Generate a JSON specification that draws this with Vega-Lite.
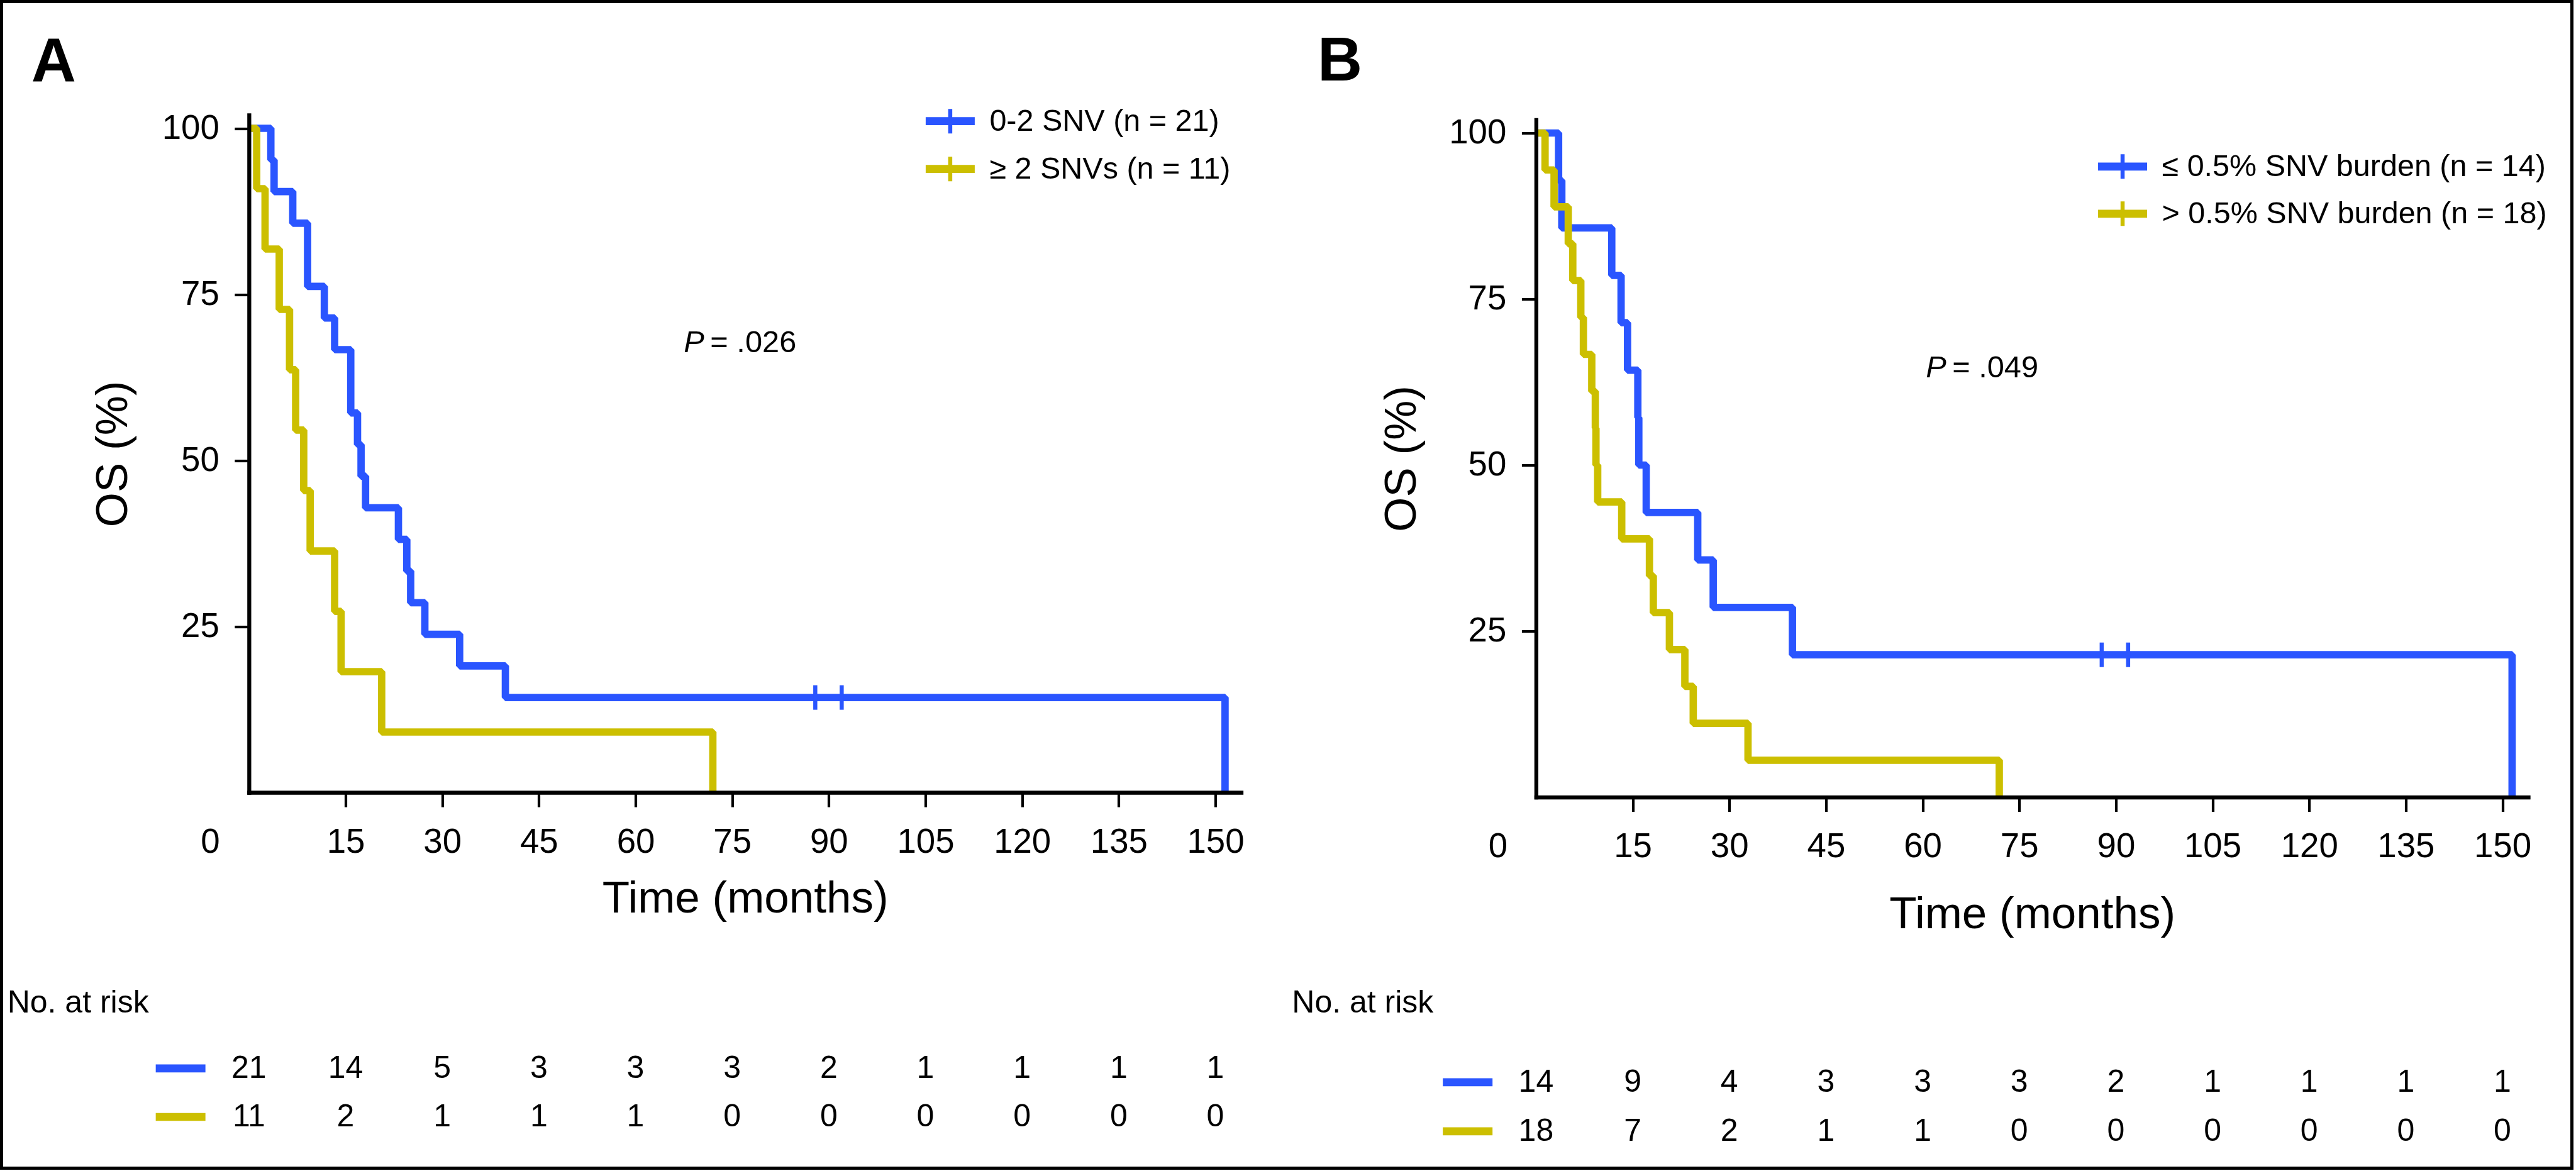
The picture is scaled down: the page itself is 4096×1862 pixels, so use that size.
{
  "$schema": "https://vega.github.io/schema/vega-lite/v6.json",
  "width": 4087,
  "height": 1855,
  "padding": 2.5,
  "autosize": {"type": "none"},
  "background": "white",
  "view": {"stroke": "black", "strokeWidth": 5, "fill": "white"},
  "config": {"font": "Liberation Sans", "axis": {"grid": false}},
  "datasets": {
    "survA": [
      {"group": "0-2 SNV (n = 21)", "t": 0, "S": 100},
      {"group": "0-2 SNV (n = 21)", "t": 3.4, "S": 95.24},
      {"group": "0-2 SNV (n = 21)", "t": 3.9, "S": 90.48},
      {"group": "0-2 SNV (n = 21)", "t": 6.8, "S": 85.71},
      {"group": "0-2 SNV (n = 21)", "t": 9.1, "S": 76.19},
      {"group": "0-2 SNV (n = 21)", "t": 11.7, "S": 71.43},
      {"group": "0-2 SNV (n = 21)", "t": 13.3, "S": 66.67},
      {"group": "0-2 SNV (n = 21)", "t": 15.8, "S": 57.14},
      {"group": "0-2 SNV (n = 21)", "t": 16.85, "S": 52.38},
      {"group": "0-2 SNV (n = 21)", "t": 17.4, "S": 47.62},
      {"group": "0-2 SNV (n = 21)", "t": 18.1, "S": 42.86},
      {"group": "0-2 SNV (n = 21)", "t": 23.2, "S": 38.1},
      {"group": "0-2 SNV (n = 21)", "t": 24.5, "S": 33.33},
      {"group": "0-2 SNV (n = 21)", "t": 25.1, "S": 28.57},
      {"group": "0-2 SNV (n = 21)", "t": 27.3, "S": 23.81},
      {"group": "0-2 SNV (n = 21)", "t": 32.7, "S": 19.05},
      {"group": "0-2 SNV (n = 21)", "t": 39.8, "S": 14.29},
      {"group": "0-2 SNV (n = 21)", "t": 151.5, "S": 0},
      {"group": "≥ 2 SNVs (n = 11)", "t": 0, "S": 100},
      {"group": "≥ 2 SNVs (n = 11)", "t": 1.2, "S": 90.91},
      {"group": "≥ 2 SNVs (n = 11)", "t": 2.5, "S": 81.82},
      {"group": "≥ 2 SNVs (n = 11)", "t": 4.7, "S": 72.73},
      {"group": "≥ 2 SNVs (n = 11)", "t": 6.3, "S": 63.64},
      {"group": "≥ 2 SNVs (n = 11)", "t": 7.25, "S": 54.55},
      {"group": "≥ 2 SNVs (n = 11)", "t": 8.5, "S": 45.45},
      {"group": "≥ 2 SNVs (n = 11)", "t": 9.5, "S": 36.36},
      {"group": "≥ 2 SNVs (n = 11)", "t": 13.3, "S": 27.27},
      {"group": "≥ 2 SNVs (n = 11)", "t": 14.3, "S": 18.18},
      {"group": "≥ 2 SNVs (n = 11)", "t": 20.6, "S": 9.09},
      {"group": "≥ 2 SNVs (n = 11)", "t": 72.0, "S": 0}
    ],
    "censA": [
      {"group": "0-2 SNV (n = 21)", "t": 87.9, "S": 14.29},
      {"group": "0-2 SNV (n = 21)", "t": 92.0, "S": 14.29}
    ],
    "riskA": [
      {"group": "0-2 SNV (n = 21)", "t": 0, "n": 21},
      {"group": "0-2 SNV (n = 21)", "t": 15, "n": 14},
      {"group": "0-2 SNV (n = 21)", "t": 30, "n": 5},
      {"group": "0-2 SNV (n = 21)", "t": 45, "n": 3},
      {"group": "0-2 SNV (n = 21)", "t": 60, "n": 3},
      {"group": "0-2 SNV (n = 21)", "t": 75, "n": 3},
      {"group": "0-2 SNV (n = 21)", "t": 90, "n": 2},
      {"group": "0-2 SNV (n = 21)", "t": 105, "n": 1},
      {"group": "0-2 SNV (n = 21)", "t": 120, "n": 1},
      {"group": "0-2 SNV (n = 21)", "t": 135, "n": 1},
      {"group": "0-2 SNV (n = 21)", "t": 150, "n": 1},
      {"group": "≥ 2 SNVs (n = 11)", "t": 0, "n": 11},
      {"group": "≥ 2 SNVs (n = 11)", "t": 15, "n": 2},
      {"group": "≥ 2 SNVs (n = 11)", "t": 30, "n": 1},
      {"group": "≥ 2 SNVs (n = 11)", "t": 45, "n": 1},
      {"group": "≥ 2 SNVs (n = 11)", "t": 60, "n": 1},
      {"group": "≥ 2 SNVs (n = 11)", "t": 75, "n": 0},
      {"group": "≥ 2 SNVs (n = 11)", "t": 90, "n": 0},
      {"group": "≥ 2 SNVs (n = 11)", "t": 105, "n": 0},
      {"group": "≥ 2 SNVs (n = 11)", "t": 120, "n": 0},
      {"group": "≥ 2 SNVs (n = 11)", "t": 135, "n": 0},
      {"group": "≥ 2 SNVs (n = 11)", "t": 150, "n": 0}
    ],
    "survB": [
      {"group": "≤ 0.5% SNV burden (n = 14)", "t": 0, "S": 100},
      {"group": "≤ 0.5% SNV burden (n = 14)", "t": 3.5, "S": 92.86},
      {"group": "≤ 0.5% SNV burden (n = 14)", "t": 4.0, "S": 85.71},
      {"group": "≤ 0.5% SNV burden (n = 14)", "t": 11.75, "S": 78.57},
      {"group": "≤ 0.5% SNV burden (n = 14)", "t": 13.2, "S": 71.43},
      {"group": "≤ 0.5% SNV burden (n = 14)", "t": 14.2, "S": 64.29},
      {"group": "≤ 0.5% SNV burden (n = 14)", "t": 15.8, "S": 57.14},
      {"group": "≤ 0.5% SNV burden (n = 14)", "t": 15.95, "S": 50.0},
      {"group": "≤ 0.5% SNV burden (n = 14)", "t": 17.1, "S": 42.86},
      {"group": "≤ 0.5% SNV burden (n = 14)", "t": 25.1, "S": 35.71},
      {"group": "≤ 0.5% SNV burden (n = 14)", "t": 27.5, "S": 28.57},
      {"group": "≤ 0.5% SNV burden (n = 14)", "t": 39.8, "S": 21.43},
      {"group": "≤ 0.5% SNV burden (n = 14)", "t": 151.5, "S": 0},
      {"group": "> 0.5% SNV burden (n = 18)", "t": 0, "S": 100},
      {"group": "> 0.5% SNV burden (n = 18)", "t": 1.4, "S": 94.44},
      {"group": "> 0.5% SNV burden (n = 18)", "t": 2.8, "S": 88.89},
      {"group": "> 0.5% SNV burden (n = 18)", "t": 5.0, "S": 83.33},
      {"group": "> 0.5% SNV burden (n = 18)", "t": 5.7, "S": 77.78},
      {"group": "> 0.5% SNV burden (n = 18)", "t": 6.95, "S": 72.22},
      {"group": "> 0.5% SNV burden (n = 18)", "t": 7.35, "S": 66.67},
      {"group": "> 0.5% SNV burden (n = 18)", "t": 8.65, "S": 61.11},
      {"group": "> 0.5% SNV burden (n = 18)", "t": 9.2, "S": 55.56},
      {"group": "> 0.5% SNV burden (n = 18)", "t": 9.3, "S": 50.0},
      {"group": "> 0.5% SNV burden (n = 18)", "t": 9.57, "S": 44.44},
      {"group": "> 0.5% SNV burden (n = 18)", "t": 13.3, "S": 38.89},
      {"group": "> 0.5% SNV burden (n = 18)", "t": 17.6, "S": 33.33},
      {"group": "> 0.5% SNV burden (n = 18)", "t": 18.2, "S": 27.78},
      {"group": "> 0.5% SNV burden (n = 18)", "t": 20.7, "S": 22.22},
      {"group": "> 0.5% SNV burden (n = 18)", "t": 23.1, "S": 16.67},
      {"group": "> 0.5% SNV burden (n = 18)", "t": 24.4, "S": 11.11},
      {"group": "> 0.5% SNV burden (n = 18)", "t": 32.9, "S": 5.56},
      {"group": "> 0.5% SNV burden (n = 18)", "t": 71.9, "S": 0}
    ],
    "censB": [
      {"group": "≤ 0.5% SNV burden (n = 14)", "t": 87.8, "S": 21.43},
      {"group": "≤ 0.5% SNV burden (n = 14)", "t": 91.9, "S": 21.43}
    ],
    "riskB": [
      {"group": "≤ 0.5% SNV burden (n = 14)", "t": 0, "n": 14},
      {"group": "≤ 0.5% SNV burden (n = 14)", "t": 15, "n": 9},
      {"group": "≤ 0.5% SNV burden (n = 14)", "t": 30, "n": 4},
      {"group": "≤ 0.5% SNV burden (n = 14)", "t": 45, "n": 3},
      {"group": "≤ 0.5% SNV burden (n = 14)", "t": 60, "n": 3},
      {"group": "≤ 0.5% SNV burden (n = 14)", "t": 75, "n": 3},
      {"group": "≤ 0.5% SNV burden (n = 14)", "t": 90, "n": 2},
      {"group": "≤ 0.5% SNV burden (n = 14)", "t": 105, "n": 1},
      {"group": "≤ 0.5% SNV burden (n = 14)", "t": 120, "n": 1},
      {"group": "≤ 0.5% SNV burden (n = 14)", "t": 135, "n": 1},
      {"group": "≤ 0.5% SNV burden (n = 14)", "t": 150, "n": 1},
      {"group": "> 0.5% SNV burden (n = 18)", "t": 0, "n": 18},
      {"group": "> 0.5% SNV burden (n = 18)", "t": 15, "n": 7},
      {"group": "> 0.5% SNV burden (n = 18)", "t": 30, "n": 2},
      {"group": "> 0.5% SNV burden (n = 18)", "t": 45, "n": 1},
      {"group": "> 0.5% SNV burden (n = 18)", "t": 60, "n": 1},
      {"group": "> 0.5% SNV burden (n = 18)", "t": 75, "n": 0},
      {"group": "> 0.5% SNV burden (n = 18)", "t": 90, "n": 0},
      {"group": "> 0.5% SNV burden (n = 18)", "t": 105, "n": 0},
      {"group": "> 0.5% SNV burden (n = 18)", "t": 120, "n": 0},
      {"group": "> 0.5% SNV burden (n = 18)", "t": 135, "n": 0},
      {"group": "> 0.5% SNV burden (n = 18)", "t": 150, "n": 0}
    ]
  },
  "resolve": {
    "scale": {"x": "independent", "y": "independent"},
    "axis": {"x": "independent", "y": "independent"}
  },
  "layer": [
    {
      "data": {"name": "survA"},
      "transform": [{"filter": {"field": "group", "equal": "0-2 SNV (n = 21)"}}],
      "mark": {"type": "line", "interpolate": "step-after", "strokeWidth": 11.7, "strokeJoin": "bevel", "strokeCap": "butt"},
      "encoding": {
        "x": {"field": "t", "type": "quantitative", "scale": {"domain": [0, 154], "range": [393.35, 1971.0], "nice": false, "zero": false}, "axis": null},
        "y": {"field": "S", "type": "quantitative", "scale": {"domain": [0, 102], "range": [1257.5, 180.4], "nice": false, "zero": false}, "axis": null},
        "stroke": {"field": "group", "type": "nominal",
          "scale": {"domain": ["0-2 SNV (n = 21)", "≥ 2 SNVs (n = 11)"], "range": ["#2A55FF", "#CCBF00"]},
          "legend": {"orient": "none", "legendX": 1465.9, "legendY": 147.7, "title": null, "padding": 0,
            "symbolType": "M-1,-0.08H1M-1,0H1M-1,0.08H1M0,-0.5V0.5",
            "symbolSize": 6084, "symbolStrokeWidth": 6.5, "symbolOpacity": 1,
            "labelFont": "Liberation Sans", "labelFontSize": 48.5, "labelColor": "black", "labelOffset": 20,
            "labelLimit": 0, "rowPadding": 1}}
      }
    },
    {
      "layer": [
        {
          "data": {"name": "survA"},
          "transform": [{"filter": {"field": "group", "equal": "≥ 2 SNVs (n = 11)"}}],
          "mark": {"type": "line", "interpolate": "step-after", "strokeWidth": 11.7, "strokeJoin": "bevel", "strokeCap": "butt", "stroke": "#CCBF00"},
          "encoding": {
            "x": {"field": "t", "type": "quantitative",
              "scale": {"domain": [0, 154], "range": [393.35, 1971.0], "nice": false, "zero": false},
              "axis": {"orient": "bottom", "offset": -597.5, "values": [15, 30, 45, 60, 75, 90, 105, 120, 135, 150],
                "title": "Time (months)", "grid": false, "zindex": 2,
                "domainColor": "black", "domainWidth": 6.3, "domainCap": "square",
                "tickColor": "black", "tickWidth": 4.2, "tickSize": 23,
                "labelFont": "Liberation Sans", "labelFontSize": 54.6, "labelColor": "black", "labelPadding": 29.2,
                "labelFlush": false, "labelOverlap": false,
                "titleFont": "Liberation Sans", "titleFontSize": 71, "titleFontWeight": "normal",
                "titleColor": "black", "titlePadding": 28.3}},
            "y": {"field": "S", "type": "quantitative",
              "scale": {"domain": [0, 102], "range": [1257.5, 180.4], "nice": false, "zero": false},
              "axis": {"orient": "left", "offset": -393.35, "values": [25, 50, 75, 100],
                "title": "OS (%)", "grid": false, "zindex": 2,
                "domainColor": "black", "domainWidth": 6.3, "domainCap": "square",
                "tickColor": "black", "tickWidth": 4.2, "tickSize": 23,
                "labelFont": "Liberation Sans", "labelFontSize": 54.6, "labelColor": "black", "labelPadding": 24.6,
                "labelFlush": false, "labelOverlap": false,
                "titleFont": "Liberation Sans", "titleFontSize": 71, "titleFontWeight": "normal",
                "titleColor": "black", "titlePadding": 41}}
          }
        },
        {
          "data": {"name": "censA"},
          "mark": {"type": "tick", "orient": "vertical", "size": 39, "thickness": 6.5, "opacity": 1, "color": "#2A55FF"},
          "encoding": {
            "x": {"field": "t", "type": "quantitative"},
            "y": {"field": "S", "type": "quantitative"}
          }
        },
        {
          "data": {"values": [{}]},
          "mark": {"type": "text", "text": "P", "fontStyle": "italic", "align": "left", "baseline": "middle", "fontSize": 48.75, "font": "Liberation Sans", "color": "black"},
          "encoding": {"x": {"datum": 67.5}, "y": {"datum": 67.7}}
        },
        {
          "data": {"values": [{}]},
          "mark": {"type": "text", "text": "= .026", "align": "left", "baseline": "middle", "fontSize": 48.75, "font": "Liberation Sans", "color": "black", "dx": 42},
          "encoding": {"x": {"datum": 67.5}, "y": {"datum": 67.7}}
        },
        {
          "data": {"values": [{}]},
          "mark": {"type": "text", "text": "0", "align": "center", "baseline": "middle", "fontSize": 54.6, "font": "Liberation Sans", "color": "black", "dx": -61.4, "dy": 79.5},
          "encoding": {"x": {"datum": 0}, "y": {"datum": 0}}
        },
        {
          "data": {"values": [{}]},
          "mark": {"type": "text", "text": "A", "align": "left", "baseline": "alphabetic", "fontSize": 98.5, "fontWeight": "bold", "font": "Liberation Sans", "color": "black", "dx": -346.1, "dy": -54.2},
          "encoding": {"x": {"datum": 0}, "y": {"datum": 102}}
        }
      ]
    },
    {
      "layer": [
        {
          "data": {"name": "riskA"},
          "mark": {"type": "text", "fontSize": 50, "font": "Liberation Sans", "align": "center", "baseline": "middle", "color": "black"},
          "encoding": {
            "x": {"field": "t", "type": "quantitative", "scale": {"domain": [0, 154], "range": [393.35, 1971.0], "nice": false, "zero": false}, "axis": null},
            "y": {"field": "group", "type": "nominal", "scale": {"type": "point", "domain": ["0-2 SNV (n = 21)", "≥ 2 SNVs (n = 11)"], "range": [1696.4, 1773.5], "padding": 0}, "axis": null},
            "text": {"field": "n", "type": "quantitative"}
          }
        },
        {
          "data": {"name": "riskA"},
          "transform": [{"filter": "datum.t === 0 && datum.group === '0-2 SNV (n = 21)'"}],
          "mark": {"type": "rule", "strokeWidth": 12.7, "strokeCap": "butt", "xOffset": -148.2, "x2Offset": -69.2, "color": "#2A55FF"},
          "encoding": {"x": {"datum": 0}, "x2": {"datum": 0}, "y": {"field": "group", "type": "nominal"}}
        },
        {
          "data": {"name": "riskA"},
          "transform": [{"filter": "datum.t === 0 && datum.group !== '0-2 SNV (n = 21)'"}],
          "mark": {"type": "rule", "strokeWidth": 12.7, "strokeCap": "butt", "xOffset": -148.2, "x2Offset": -69.2, "color": "#CCBF00"},
          "encoding": {"x": {"datum": 0}, "x2": {"datum": 0}, "y": {"field": "group", "type": "nominal"}}
        },
        {
          "data": {"values": [{}]},
          "mark": {"type": "text", "text": "No. at risk", "align": "left", "baseline": "middle", "fontSize": 50, "font": "Liberation Sans", "color": "black", "dx": -384.2, "dy": -103.8},
          "encoding": {"x": {"datum": 0}, "y": {"datum": "0-2 SNV (n = 21)"}}
        }
      ]
    },
    {
      "data": {"name": "survB"},
      "transform": [{"filter": {"field": "group", "equal": "≤ 0.5% SNV burden (n = 14)"}}],
      "mark": {"type": "line", "interpolate": "step-after", "strokeWidth": 11.7, "strokeJoin": "bevel", "strokeCap": "butt"},
      "encoding": {
        "x": {"field": "t", "type": "quantitative", "scale": {"domain": [0, 154], "range": [2439.9, 4017.5], "nice": false, "zero": false}, "axis": null},
        "y": {"field": "S", "type": "quantitative", "scale": {"domain": [0, 102], "range": [1265.0, 187.9], "nice": false, "zero": false}, "axis": null},
        "color": {"field": "group", "type": "nominal",
          "scale": {"domain": ["≤ 0.5% SNV burden (n = 14)", "> 0.5% SNV burden (n = 18)"], "range": ["#2A55FF", "#CCBF00"]},
          "legend": {"orient": "none", "legendX": 3330.05, "legendY": 219.8, "title": null, "padding": 0,
            "symbolType": "M-1,-0.08H1M-1,0H1M-1,0.08H1M0,-0.5V0.5",
            "symbolSize": 6084, "symbolStrokeWidth": 6.5, "symbolOpacity": 1,
            "labelFont": "Liberation Sans", "labelFontSize": 48.5, "labelColor": "black", "labelOffset": 20,
            "labelLimit": 0, "rowPadding": -2}}
      }
    },
    {
      "layer": [
        {
          "data": {"name": "survB"},
          "transform": [{"filter": {"field": "group", "equal": "> 0.5% SNV burden (n = 18)"}}],
          "mark": {"type": "line", "interpolate": "step-after", "strokeWidth": 11.7, "strokeJoin": "bevel", "strokeCap": "butt", "stroke": "#CCBF00"},
          "encoding": {
            "x": {"field": "t", "type": "quantitative",
              "scale": {"domain": [0, 154], "range": [2439.9, 4017.5], "nice": false, "zero": false},
              "axis": {"orient": "bottom", "offset": -590, "values": [15, 30, 45, 60, 75, 90, 105, 120, 135, 150],
                "title": "Time (months)", "grid": false, "zindex": 2,
                "domainColor": "black", "domainWidth": 6.3, "domainCap": "square",
                "tickColor": "black", "tickWidth": 4.2, "tickSize": 23,
                "labelFont": "Liberation Sans", "labelFontSize": 54.6, "labelColor": "black", "labelPadding": 29.2,
                "labelFlush": false, "labelOverlap": false,
                "titleFont": "Liberation Sans", "titleFontSize": 71, "titleFontWeight": "normal",
                "titleColor": "black", "titlePadding": 46}},
            "y": {"field": "S", "type": "quantitative",
              "scale": {"domain": [0, 102], "range": [1265.0, 187.9], "nice": false, "zero": false},
              "axis": {"orient": "left", "offset": -2439.9, "values": [25, 50, 75, 100],
                "title": "OS (%)", "grid": false, "zindex": 2,
                "domainColor": "black", "domainWidth": 6.3, "domainCap": "square",
                "tickColor": "black", "tickWidth": 4.2, "tickSize": 23,
                "labelFont": "Liberation Sans", "labelFontSize": 54.6, "labelColor": "black", "labelPadding": 24.6,
                "labelFlush": false, "labelOverlap": false,
                "titleFont": "Liberation Sans", "titleFontSize": 71, "titleFontWeight": "normal",
                "titleColor": "black", "titlePadding": 38}}
          }
        },
        {
          "data": {"name": "censB"},
          "mark": {"type": "tick", "orient": "vertical", "size": 39, "thickness": 6.5, "opacity": 1, "color": "#2A55FF"},
          "encoding": {
            "x": {"field": "t", "type": "quantitative"},
            "y": {"field": "S", "type": "quantitative"}
          }
        },
        {
          "data": {"values": [{}]},
          "mark": {"type": "text", "text": "P", "fontStyle": "italic", "align": "left", "baseline": "middle", "fontSize": 48.75, "font": "Liberation Sans", "color": "black"},
          "encoding": {"x": {"datum": 60.5}, "y": {"datum": 64.6}}
        },
        {
          "data": {"values": [{}]},
          "mark": {"type": "text", "text": "= .049", "align": "left", "baseline": "middle", "fontSize": 48.75, "font": "Liberation Sans", "color": "black", "dx": 42},
          "encoding": {"x": {"datum": 60.5}, "y": {"datum": 64.6}}
        },
        {
          "data": {"values": [{}]},
          "mark": {"type": "text", "text": "0", "align": "center", "baseline": "middle", "fontSize": 54.6, "font": "Liberation Sans", "color": "black", "dx": -60.5, "dy": 79.5},
          "encoding": {"x": {"datum": 0}, "y": {"datum": 0}}
        },
        {
          "data": {"values": [{}]},
          "mark": {"type": "text", "text": "B", "align": "left", "baseline": "alphabetic", "fontSize": 98.5, "fontWeight": "bold", "font": "Liberation Sans", "color": "black", "dx": -347.4, "dy": -62.7},
          "encoding": {"x": {"datum": 0}, "y": {"datum": 102}}
        }
      ]
    },
    {
      "layer": [
        {
          "data": {"name": "riskB"},
          "mark": {"type": "text", "fontSize": 50, "font": "Liberation Sans", "align": "center", "baseline": "middle", "color": "black"},
          "encoding": {
            "x": {"field": "t", "type": "quantitative", "scale": {"domain": [0, 154], "range": [2439.9, 4017.5], "nice": false, "zero": false}, "axis": null},
            "y": {"field": "group", "type": "nominal", "scale": {"type": "point", "domain": ["≤ 0.5% SNV burden (n = 14)", "> 0.5% SNV burden (n = 18)"], "range": [1718.4, 1796.4], "padding": 0}, "axis": null},
            "text": {"field": "n", "type": "quantitative"}
          }
        },
        {
          "data": {"name": "riskB"},
          "transform": [{"filter": "datum.t === 0 && datum.group === '≤ 0.5% SNV burden (n = 14)'"}],
          "mark": {"type": "rule", "strokeWidth": 12.7, "strokeCap": "butt", "xOffset": -148.2, "x2Offset": -69.2, "color": "#2A55FF"},
          "encoding": {"x": {"datum": 0}, "x2": {"datum": 0}, "y": {"field": "group", "type": "nominal"}}
        },
        {
          "data": {"name": "riskB"},
          "transform": [{"filter": "datum.t === 0 && datum.group !== '≤ 0.5% SNV burden (n = 14)'"}],
          "mark": {"type": "rule", "strokeWidth": 12.7, "strokeCap": "butt", "xOffset": -148.2, "x2Offset": -69.2, "color": "#CCBF00"},
          "encoding": {"x": {"datum": 0}, "x2": {"datum": 0}, "y": {"field": "group", "type": "nominal"}}
        },
        {
          "data": {"values": [{}]},
          "mark": {"type": "text", "text": "No. at risk", "align": "left", "baseline": "middle", "fontSize": 50, "font": "Liberation Sans", "color": "black", "dx": -388.1, "dy": -125.8},
          "encoding": {"x": {"datum": 0}, "y": {"datum": "≤ 0.5% SNV burden (n = 14)"}}
        }
      ]
    }
  ]
}
